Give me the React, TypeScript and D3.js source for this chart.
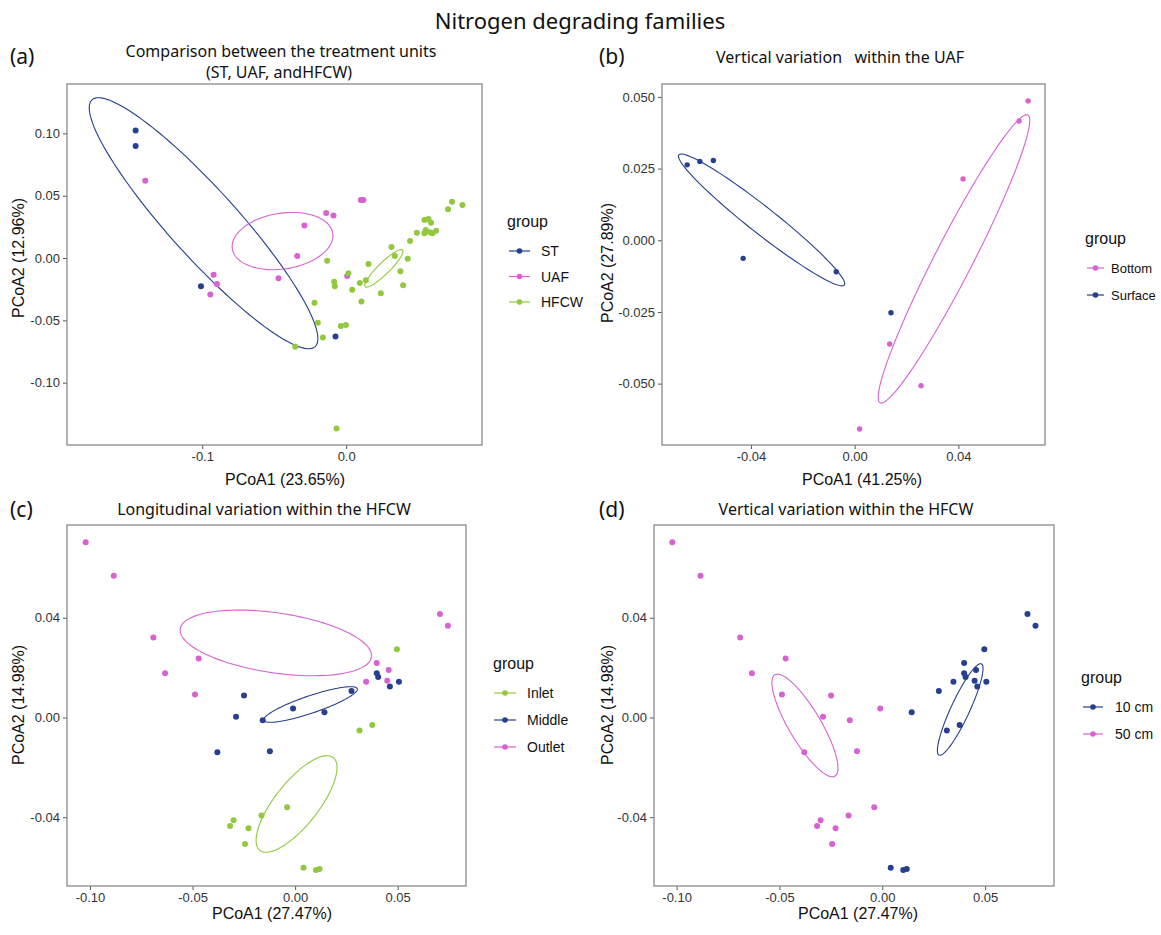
import { useEffect, useRef } from 'react'
import * as d3 from 'd3'

const BLUE = '#263F8E'
const PINK = '#D862D2'
const GREEN = '#92C83E'

// (a) treatment units: [PCoA1, PCoA2]
const stPoints = [[-0.1463, 0.1022], [-0.1463, 0.0899], [-0.1009, -0.0227], [-0.0074, -0.0629]]
const uafPoints = [
  [-0.1396, 0.062], [-0.0139, 0.0361], [-0.0088, 0.0342], [0.0102, 0.0466], [0.012, 0.0466],
  [-0.029, 0.026], [-0.034, 0.0016], [-0.047, -0.0163], [-0.0921, -0.0134], [-0.0898, -0.0209],
  [-0.0944, -0.0292], [0.0007, -0.0144],
]
const hfcwPoints = [
  [0.0736, 0.0452], [0.0808, 0.0425], [0.0708, 0.0391], [0.0544, 0.0305], [0.0572, 0.0313],
  [0.059, 0.0283], [0.0491, 0.0203], [0.0544, 0.0198], [0.0553, 0.0225], [0.0583, 0.0206],
  [0.0625, 0.0219], [0.0599, 0.0198], [0.0444, 0.0136], [0.0315, 0.0088], [0.0338, 0.0016],
  [0.0428, -0.0005], [0.0155, -0.0048], [-0.0132, -0.0021], [0.0016, -0.0123], [0.0137, -0.0179],
  [0.0095, -0.0201], [0.0377, -0.0107], [0.0396, -0.0219], [0.0241, -0.0283], [-0.0083, -0.019],
  [-0.0079, -0.0227], [0.0042, -0.0254], [0.0106, -0.0348], [-0.022, -0.0359], [-0.0197, -0.0519],
  [-0.0162, -0.0637], [-0.0037, -0.0546], [-0.0002, -0.0538], [-0.0354, -0.0712], [-0.0067, -0.1367],
]

// (b) UAF depth
const surfacePoints = [[-0.0646, 0.0263], [-0.0597, 0.0275], [-0.0545, 0.0278], [-0.043, -0.0063], [-0.0071, -0.011], [0.014, -0.0253]]
const bottomPoints = [[0.0669, 0.0486], [0.0634, 0.0416], [0.0418, 0.0214], [0.0135, -0.0362], [0.0256, -0.0507], [0.0019, -0.0658]]

// (c)/(d) HFCW samples: [PCoA1, PCoA2, position, depth]
const hfcwSamples: [number, number, string, string][] = [
  [0.0706, 0.0415, 'Outlet', '10 cm'], [0.0398, 0.0218, 'Outlet', '10 cm'], [0.0456, 0.019, 'Outlet', '10 cm'],
  [0.0449, 0.0147, 'Outlet', '10 cm'], [0.0346, 0.0143, 'Outlet', '10 cm'], [0.0745, 0.0368, 'Outlet', '10 cm'],
  [-0.1021, 0.0703, 'Outlet', '50 cm'], [-0.0884, 0.0568, 'Outlet', '50 cm'], [-0.0691, 0.0321, 'Outlet', '50 cm'],
  [-0.047, 0.0237, 'Outlet', '50 cm'], [-0.0634, 0.0177, 'Outlet', '50 cm'], [-0.0488, 0.0092, 'Outlet', '50 cm'],
  [0.0398, 0.0177, 'Middle', '10 cm'], [0.0405, 0.0162, 'Middle', '10 cm'], [0.0462, 0.0124, 'Middle', '10 cm'],
  [0.0506, 0.0143, 'Middle', '10 cm'], [0.0275, 0.0106, 'Middle', '10 cm'], [0.0143, 0.0021, 'Middle', '10 cm'],
  [-0.0249, 0.0088, 'Middle', '50 cm'], [-0.001, 0.0036, 'Middle', '50 cm'], [-0.0288, 0.0003, 'Middle', '50 cm'],
  [-0.0158, -0.0011, 'Middle', '50 cm'], [-0.0379, -0.014, 'Middle', '50 cm'], [-0.0123, -0.0136, 'Middle', '50 cm'],
  [0.0496, 0.0274, 'Inlet', '10 cm'], [0.0376, -0.003, 'Inlet', '10 cm'], [0.0314, -0.0052, 'Inlet', '10 cm'],
  [0.0041, -0.0603, 'Inlet', '10 cm'], [0.0102, -0.0612, 'Inlet', '10 cm'], [0.0119, -0.0608, 'Inlet', '10 cm'],
  [-0.0039, -0.036, 'Inlet', '50 cm'], [-0.0164, -0.0393, 'Inlet', '50 cm'], [-0.03, -0.0412, 'Inlet', '50 cm'],
  [-0.0317, -0.0435, 'Inlet', '50 cm'], [-0.0227, -0.0444, 'Inlet', '50 cm'], [-0.0244, -0.0508, 'Inlet', '50 cm'],
]

// confidence ellipses: centre + two conjugate half-axes (data units)
type Ell = { c: number[]; a: number[]; b: number[] }
const ellST: Ell = { c: [-0.0991, 0.0279], a: [0.0775, -0.099], b: [0.0175, 0.0183] }
const ellUAF: Ell = { c: [-0.0442, 0.0136], a: [0.0349, 0.00626], b: [0.003, -0.0221] }
const ellHFCW: Ell = { c: [0.0262, -0.0083], a: [0.013, 0.0147], b: [0.0028, -0.0033] }
const ellSurface: Ell = { c: [-0.0359, 0.0071], a: [0.0319, -0.0227], b: [0.00316, 0.00366] }
const ellBottom: Ell = { c: [0.0383, -0.0065], a: [0.0285, 0.0502], b: [0.0065, -0.003] }
const ellOutlet: Ell = { c: [-0.0094, 0.0299], a: [0.0466, -0.00566], b: [-0.00215, -0.0119] }
const ellMiddle: Ell = { c: [0.0075, 0.0052], a: [0.0228, 0.00634], b: [0.00137, -0.00329] }
const ellInlet: Ell = { c: [0.0007, -0.0347], a: [0.0179, 0.0186], b: [0.0083, -0.0054] }
const ell50: Ell = { c: [-0.0376, -0.0032], a: [-0.0146, 0.0203], b: [0.0067, 0.0033] }
const ell10: Ell = { c: [0.0379, 0.0032], a: [0.0103, 0.0183], b: [0.0041, -0.0016] }

const byPos = (p: string) => hfcwSamples.filter(d => d[2] === p).map(d => [d[0], d[1]])
const byDepth = (p: string) => hfcwSamples.filter(d => d[3] === p).map(d => [d[0], d[1]])

const panels = [
  {
    box: [67, 84, 482, 445], xDomain: [-0.194, 0.0944], yDomain: [-0.15, 0.1396],
    xTicks: [-0.1, 0], xDigits: 1, yTicks: [-0.1, -0.05, 0, 0.05, 0.1], yDigits: 2, r: 3,
    xTitle: 'PCoA1 (23.65%)', xTitleX: 285, xTitleY: 485, yTitle: 'PCoA2 (12.96%)', yTitleX: 18, yTitleY: 258,
    legend: { x: 507, y: 227, gap: 25.5, line: [509, 530], textX: 541, size: 14 },
    groups: [
      { label: 'ST', color: BLUE, pts: stPoints, ell: ellST },
      { label: 'UAF', color: PINK, pts: uafPoints, ell: ellUAF },
      { label: 'HFCW', color: GREEN, pts: hfcwPoints, ell: ellHFCW },
    ],
  },
  {
    box: [662, 84, 1045, 445], xDomain: [-0.0743, 0.0734], yDomain: [-0.0714, 0.0545],
    xTicks: [-0.04, 0, 0.04], xDigits: 2, yTicks: [-0.05, -0.025, 0, 0.025, 0.05], yDigits: 3, r: 2.7,
    xTitle: 'PCoA1 (41.25%)', xTitleX: 862, xTitleY: 485, yTitle: 'PCoA2 (27.89%)', yTitleX: 607, yTitleY: 263,
    legend: { x: 1085, y: 244, gap: 27, line: [1087, 1104], textX: 1111, size: 13 },
    groups: [
      { label: 'Bottom', color: PINK, pts: bottomPoints, ell: ellBottom },
      { label: 'Surface', color: BLUE, pts: surfacePoints, ell: ellSurface },
    ],
  },
  {
    box: [67, 525, 466, 886], xDomain: [-0.1112, 0.0833], yDomain: [-0.0676, 0.0772],
    xTicks: [-0.1, -0.05, 0, 0.05], xDigits: 2, yTicks: [-0.04, 0, 0.04], yDigits: 2, r: 3,
    xTitle: 'PCoA1 (27.47%)', xTitleX: 272, xTitleY: 919, yTitle: 'PCoA2 (14.98%)', yTitleX: 18, yTitleY: 705,
    legend: { x: 493, y: 669, gap: 27, line: [494, 516], textX: 527, size: 14 },
    groups: [
      { label: 'Inlet', color: GREEN, pts: byPos('Inlet'), ell: ellInlet },
      { label: 'Middle', color: BLUE, pts: byPos('Middle'), ell: ellMiddle },
      { label: 'Outlet', color: PINK, pts: byPos('Outlet'), ell: ellOutlet },
    ],
  },
  {
    box: [654, 525, 1054, 886], xDomain: [-0.111, 0.0835], yDomain: [-0.0676, 0.0772],
    xTicks: [-0.1, -0.05, 0, 0.05], xDigits: 2, yTicks: [-0.04, 0, 0.04], yDigits: 2, r: 3,
    xTitle: 'PCoA1 (27.47%)', xTitleX: 858, xTitleY: 919, yTitle: 'PCoA2 (14.98%)', yTitleX: 607, yTitleY: 705,
    legend: { x: 1081, y: 683, gap: 27, line: [1083, 1103], textX: 1115, size: 14 },
    groups: [
      { label: '10 cm', color: BLUE, pts: byDepth('10 cm'), ell: ell10 },
      { label: '50 cm', color: PINK, pts: byDepth('50 cm'), ell: ell50 },
    ],
  },
]

const headings = [
  { text: '(a)', x: 10, y: 64, size: 21, anchor: 'start' },
  { text: 'Comparison between the treatment units', x: 281, y: 57, size: 16, anchor: 'middle' },
  { text: '(ST, UAF, andHFCW)', x: 279, y: 78, size: 16, anchor: 'middle' },
  { text: '(b)', x: 599, y: 64, size: 21, anchor: 'start' },
  { text: 'Vertical variation   within the UAF', x: 840, y: 63, size: 16, anchor: 'middle' },
  { text: '(c)', x: 10, y: 517, size: 21, anchor: 'start' },
  { text: 'Longitudinal variation within the HFCW', x: 264, y: 515, size: 16, anchor: 'middle' },
  { text: '(d)', x: 599, y: 517, size: 21, anchor: 'start' },
  { text: 'Vertical variation within the HFCW', x: 846, y: 515, size: 16, anchor: 'middle' },
]

const SANS = '"Liberation Sans", Arial, sans-serif'
const TITLE_FONT = '"Noto Sans", "Open Sans", sans-serif'

function App() {
  const ref = useRef<SVGSVGElement>(null)

  useEffect(() => {
    if (!ref.current) return
    const svg = d3.select(ref.current)
    svg.selectAll('*').remove()

    svg.append('rect').attr('width', 1161).attr('height', 935).attr('fill', '#fff')

    svg.append('text')
      .attr('x', 580).attr('y', 29)
      .attr('text-anchor', 'middle')
      .attr('font-family', TITLE_FONT)
      .attr('font-size', 22)
      .attr('fill', '#111')
      .text('Nitrogen degrading families')

    headings.forEach(h => {
      svg.append('text')
        .attr('x', h.x).attr('y', h.y)
        .attr('text-anchor', h.anchor)
        .attr('font-family', TITLE_FONT)
        .attr('font-size', h.size)
        .attr('fill', '#111')
        .style('white-space', 'pre')
        .text(h.text)
    })

    panels.forEach(p => {
      const [x0, y0, x1, y1] = p.box
      const x = d3.scaleLinear().domain(p.xDomain).range([x0, x1])
      const y = d3.scaleLinear().domain(p.yDomain).range([y1, y0])
      const g = svg.append('g')

      // x axis
      const xa = g.append('g')
        .attr('transform', `translate(0,${y1})`)
        .call(d3.axisBottom(x).tickValues(p.xTicks).tickSize(4).tickPadding(3)
          .tickFormat(d => (+d).toFixed(p.xDigits)))
      xa.select('.domain').remove()
      xa.selectAll('line').attr('stroke', '#555')
      xa.selectAll('text').attr('font-family', SANS).attr('font-size', 13).attr('fill', '#333')

      // y axis
      const ya = g.append('g')
        .attr('transform', `translate(${x0},0)`)
        .call(d3.axisLeft(y).tickValues(p.yTicks).tickSize(4).tickPadding(3)
          .tickFormat(d => (+d).toFixed(p.yDigits)))
      ya.select('.domain').remove()
      ya.selectAll('line').attr('stroke', '#555')
      ya.selectAll('text').attr('font-family', SANS).attr('font-size', 13).attr('fill', '#333')

      // panel border
      g.append('rect')
        .attr('x', x0).attr('y', y0)
        .attr('width', x1 - x0).attr('height', y1 - y0)
        .attr('fill', 'none')
        .attr('stroke', '#8a8a8a')
        .attr('stroke-width', 1.3)

      // axis titles
      g.append('text')
        .attr('x', p.xTitleX).attr('y', p.xTitleY)
        .attr('text-anchor', 'middle')
        .attr('font-family', SANS).attr('font-size', 16).attr('fill', '#111')
        .text(p.xTitle)
      g.append('text')
        .attr('transform', `translate(${p.yTitleX},${p.yTitleY}) rotate(-90)`)
        .attr('text-anchor', 'middle')
        .attr('dominant-baseline', 'central')
        .attr('font-family', SANS).attr('font-size', 16).attr('fill', '#111')
        .text(p.yTitle)

      // ellipses
      const line = d3.line<number[]>().x(d => x(d[0])).y(d => y(d[1])).curve(d3.curveLinearClosed)
      const ts = d3.range(0, 120).map(i => (2 * Math.PI * i) / 120)
      p.groups.forEach(gr => {
        const e = gr.ell
        const pts = ts.map(t => [
          e.c[0] + e.a[0] * Math.cos(t) + e.b[0] * Math.sin(t),
          e.c[1] + e.a[1] * Math.cos(t) + e.b[1] * Math.sin(t),
        ])
        g.append('path')
          .attr('d', line(pts))
          .attr('fill', 'none')
          .attr('stroke', gr.color)
          .attr('stroke-width', 1.1)
      })

      // points
      p.groups.forEach(gr => {
        g.selectAll(null)
          .data(gr.pts)
          .enter()
          .append('circle')
          .attr('cx', d => x(d[0]))
          .attr('cy', d => y(d[1]))
          .attr('r', p.r)
          .attr('fill', gr.color)
      })

      // legend
      const lg = p.legend
      g.append('text')
        .attr('x', lg.x).attr('y', lg.y)
        .attr('font-family', SANS).attr('font-size', 16).attr('fill', '#111')
        .text('group')
      p.groups.forEach((gr, i) => {
        const cy = lg.y + 24 + i * lg.gap
        g.append('line')
          .attr('x1', lg.line[0]).attr('x2', lg.line[1])
          .attr('y1', cy).attr('y2', cy)
          .attr('stroke', gr.color).attr('stroke-width', 1.2)
        g.append('circle')
          .attr('cx', (lg.line[0] + lg.line[1]) / 2).attr('cy', cy)
          .attr('r', 2.8).attr('fill', gr.color)
        g.append('text')
          .attr('x', lg.textX).attr('y', cy + 5)
          .attr('font-family', SANS).attr('font-size', lg.size).attr('fill', '#111')
          .text(gr.label)
      })
    })
  }, [])

  return (
    <svg
      ref={ref}
      width={1161}
      height={935}
      style={{ position: 'absolute', left: 0, top: 0, background: '#fff' }}
    />
  )
}

export default App
